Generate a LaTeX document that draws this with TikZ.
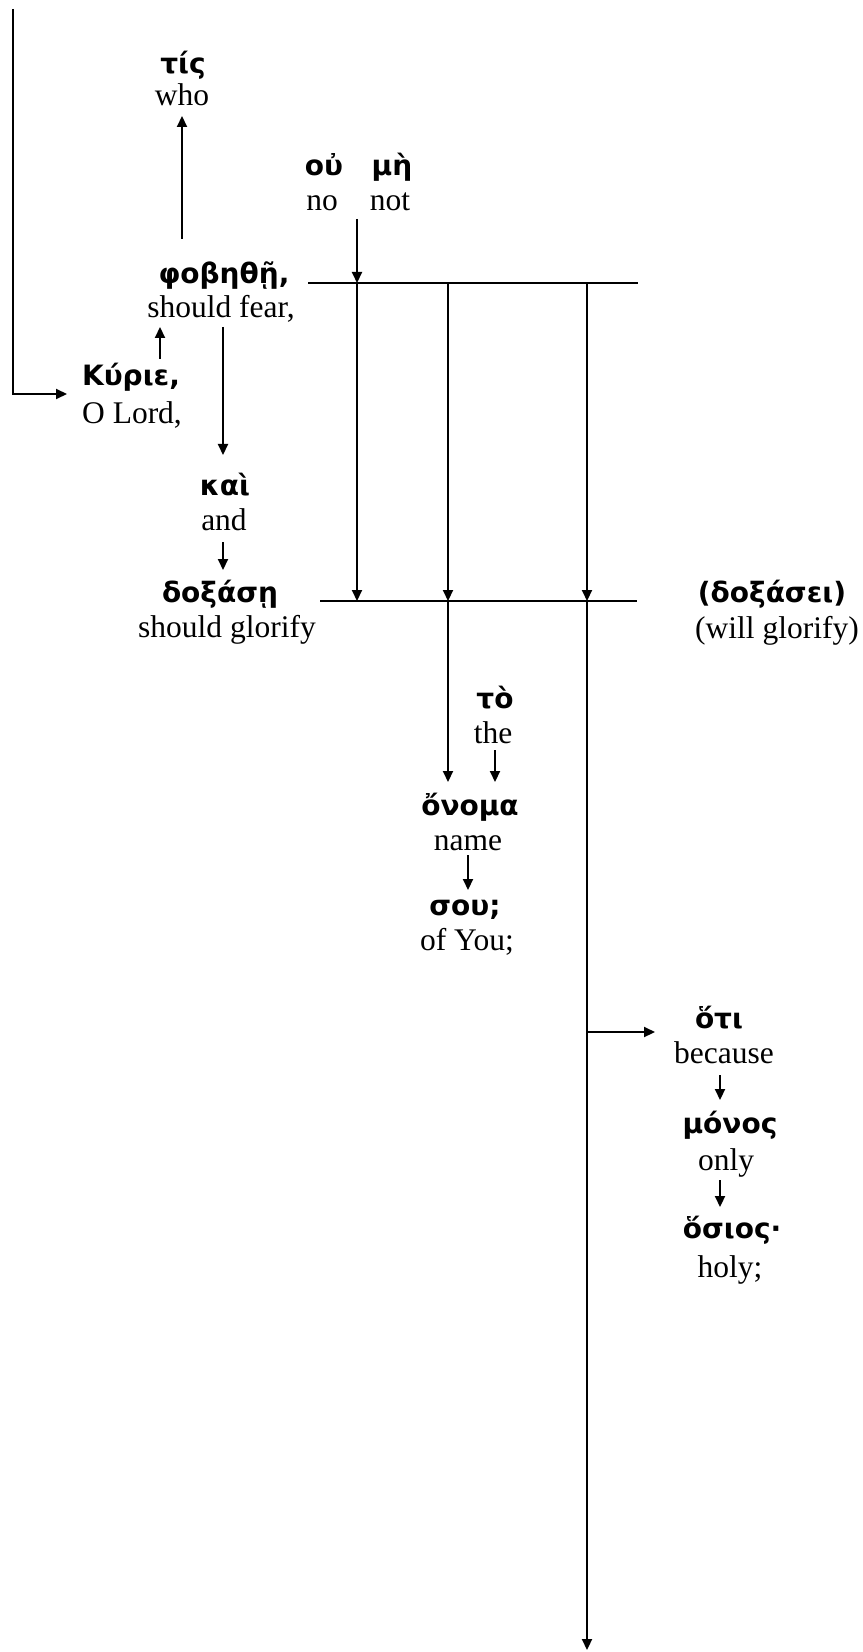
\documentclass[tikz,border=0pt]{standalone}
\usepackage{fontspec}
\setmainfont{Liberation Serif}
\newfontfamily\grk{DejaVu Sans}
\usetikzlibrary{arrows.meta}
\begin{document}
\begin{tikzpicture}[x=0.5pt,y=-0.5pt,
  eng/.style={font=\fontsize{15.75}{18}\selectfont, inner sep=0pt, text height=0.68em, text depth=0pt, yshift=-2pt},
  gk/.style={font=\grk\bfseries\fontsize{14}{17}\selectfont, inner sep=0pt, text height=0.68em, text depth=0pt, yshift=-2pt},
  ln/.style={line width=1.05pt},
  arr/.style={ln,-{Triangle[length=5.5pt,width=5pt]}}]
\useasboundingbox (0,0) rectangle (862,1652);

% words: Greek above, English gloss below
\node[gk]  (tisG)   at (183,63)   {τίς};
\node[eng] (tisE)   at (182,95)   {who};
\node[gk]  (ouG)    at (324,165)  {οὐ};
\node[gk]  (meG)    at (392,165)  {μὴ};
\node[eng] (noE)    at (322,200)  {no};
\node[eng] (notE)   at (390,200)  {not};
\node[gk]  (fobG)   at (224,273)  {φοβηθῇ,};
\node[eng] (fobE)   at (221,307)  {should fear,};
\node[gk]  (kyrG)   at (131,375)  {Κύριε,};
\node[eng] (kyrE)   at (132,413)  {O Lord,};
\node[gk]  (kaiG)   at (225,485)  {καὶ};
\node[eng] (kaiE)   at (224,520)  {and};
\node[gk]  (doxG)   at (220,592)  {δοξάσῃ};
\node[eng] (doxE)   at (227,627)  {should glorify};
\node[gk]  (dxsG)   at (772,592)  {(δοξάσει)};
\node[eng] (dxsE)   at (777,628)  {(will glorify)};
\node[gk]  (toG)    at (495,698)  {τὸ};
\node[eng] (toE)    at (493,733)  {the};
\node[gk]  (onoG)   at (470,805)  {ὄνομα};
\node[eng] (onoE)   at (468,840)  {name};
\node[gk]  (souG)   at (465,905)  {σου;};
\node[eng] (souE)   at (467,940)  {of You;};
\node[gk]  (otiG)   at (719,1018) {ὅτι};
\node[eng] (otiE)   at (724,1053) {because};
\node[gk]  (monG)   at (730,1123) {μόνος};
\node[eng] (monE)   at (726,1160) {only};
\node[gk]  (osiG)   at (732,1228) {ὅσιος·};
\node[eng] (osiE)   at (730,1267) {holy;};

% junction points on the two bars
\coordinate (tL) at (308,283);
\coordinate (tR) at (638,283);
\coordinate (bL) at (320,601);
\coordinate (bR) at (637,601);
\coordinate (t1) at (357,283);
\coordinate (t2) at (448,283);
\coordinate (t3) at (587,283);
\coordinate (b1) at (357,601);
\coordinate (b2) at (448,601);
\coordinate (b3) at (587,601);
\coordinate (neg) at (357,219);
\coordinate (top) at (13,9);
\coordinate (corner) at (13,394);
\coordinate (kyrIn) at (67,394);
\coordinate (onoIn) at (448,782);
\coordinate (otiBr) at (587,1032);
\coordinate (otiIn) at (655,1032);
\coordinate (endTip) at (587,1650);

% bars
\draw[ln] (tL) -- (tR);
\draw[ln] (bL) -- (bR);

% bar connections
\draw[arr] (neg) -- (t1);
\draw[arr] (t1) -- (b1);
\draw[arr] (t2) -- (b2);
\draw[arr] (t3) -- (b3);
\draw[arr] (b2) -- (onoIn);
\draw[arr] (b3) -- (endTip);
\draw[arr] (otiBr) -- (otiIn);

% incoming line to the vocative
\draw[arr] (top) -- (corner) -- (kyrIn);

% word-to-word arrows
\draw[arr] (182,239) -- (182,116);
\draw[arr] (160,359) -- (160,327);
\draw[arr] (223,327) -- (223,455);
\draw[arr] (223,542) -- (223,570);
\draw[arr] (495,750) -- (495,782);
\draw[arr] (468,855) -- (468,890);
\draw[arr] (720,1075) -- (720,1100);
\draw[arr] (720,1180) -- (720,1207);
\end{tikzpicture}
\end{document}
